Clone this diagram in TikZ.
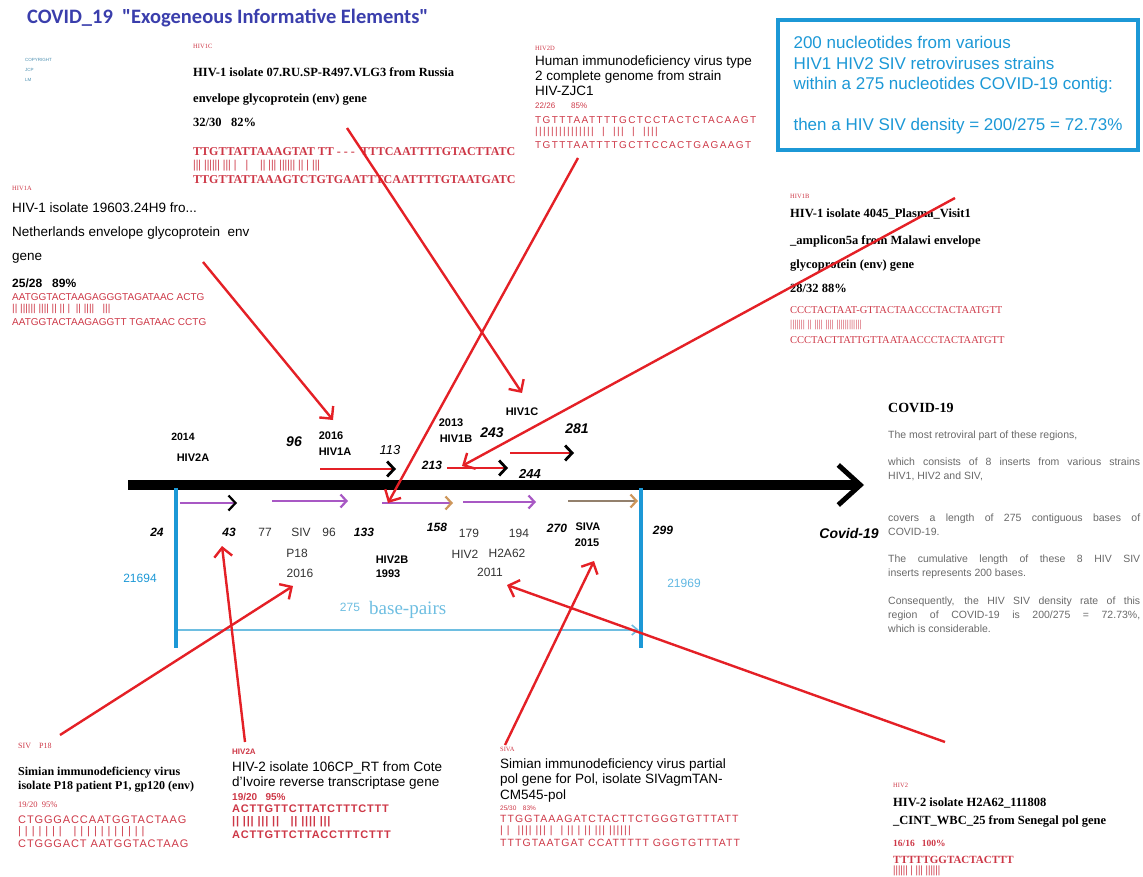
\documentclass[tikz,border=0pt]{standalone}
\usepackage{fontspec}
\setmainfont{Liberation Serif}
\setsansfont{Liberation Sans}
\newfontfamily\carl{Carlito}
\usetikzlibrary{arrows.meta}
\definecolor{seqred}{RGB}{205,55,70}
\definecolor{arrred}{RGB}{228,32,38}
\definecolor{lineblue}{RGB}{28,152,214}
\definecolor{paleblue}{RGB}{110,190,225}
\definecolor{titleblue}{RGB}{58,62,172}
\definecolor{purp}{RGB}{168,88,196}
\definecolor{ochre}{RGB}{205,150,90}
\definecolor{txtgray}{RGB}{105,105,105}
\newcommand\fs[1]{\fontsize{#1}{#1}\selectfont}
\newcommand\spread[1]{\addfontfeature{LetterSpace=#1}}
\begin{document}
\begin{tikzpicture}[x=1pt,y=-1pt,
    every node/.style={inner sep=0pt,anchor=west},
    tag/.style={text=seqred,font=\fs{6.5}},
    srf/.style={font=\bfseries\fs{12.5}},
    sns/.style={font=\sffamily\fs{13.5}},
    sqs/.style={text=seqred,font=\sffamily\fs{10}},
    sqr/.style={text=seqred,font=\fs{10.5}},
    redarr/.style={draw=arrred,line width=2.4pt,-{Straight Barb[length=9pt,width=18pt]}},
    insarr/.style={draw=arrred,line width=2.8pt,-{Straight Barb[black,length=7pt,width=15pt]}},
    purarr/.style={draw=purp,line width=2.2pt,-{Straight Barb[length=6pt,width=13pt]}},
    nb/.style={anchor=center,font=\sffamily\bfseries\itshape\fs{12}},
    nbb/.style={anchor=center,font=\sffamily\bfseries\fs{11}},
    np/.style={anchor=center,text=black!80,font=\sffamily\fs{12}},
    gtx/.style={text=txtgray,font=\sffamily\fontsize{10.5}{14}\selectfont,text width=252pt,align=justify,anchor=north west}
]
\useasboundingbox (0,0) rectangle (1143,877);

\node[text=titleblue,font=\carl\bfseries\fs{20.5}] (title) at (27,18) {COVID\_19\ \ "Exogeneous Informative Elements"};
\node[text=lineblue!55!gray,font=\sffamily\fontsize{4.5}{10}\selectfont,align=left] (copyr) at (25,70) {COPYRIGHT\\JCP\\LM};

% HIV1C
\node[tag] (c1tag) at (193,46) {HIV1C};
\node[srf] (c1a) at (193,72) {HIV-1 isolate 07.RU.SP-R497.VLG3 from Russia};
\node[srf] (c1b) at (193,100) {envelope glycoprotein (env) gene};
\node[srf] (c1c) at (193,122) {32/30\ \ \ 82\%};
\node[sqr,font=\bfseries\fs{12}] (c1s) at (193,152) {TTGTTATTAAAGTAT TT - - -\ \ TTTCAATTTTGTACTTATC};
\node[sqr,font=\bfseries\fs{12}] (c1m) at (193,166) {||| |||||| ||| |\ \ \ |\ \ \ \ || ||| |||||| || | |||};
\node[sqr,font=\bfseries\fs{12}] (c1t) at (193,180) {TTGTTATTAAAGTCTGTGAATTTCAATTTTGTAATGATC};

% HIV2D
\node[tag] (d2tag) at (535,48) {HIV2D};
\node[sns] (d2a) at (535,62) {Human immunodeficiency virus type};
\node[sns] (d2b) at (535,77) {2 complete genome from strain};
\node[sns] (d2c) at (535,91) {HIV-ZJC1};
\node[sqs,font=\sffamily\fs{8}] (d2d) at (535,106) {22/26\qquad 85\%};
\node[sqs,font=\sffamily\fs{10}\spread{14}] (d2s) at (535,120) {TGTTTAATTTTGCTCCTACTCTACAAGT};
\node[sqs,font=\sffamily\fs{10}\spread{14}] (d2m) at (535,132) {|||||||||||||||\ \ |\ \ |||\ \ |\ \ ||||};
\node[sqs,font=\sffamily\fs{10}\spread{14}] (d2t) at (535,145) {TGTTTAATTTTGCTTCCACTGAGAAGT};

\node[draw=lineblue,line width=4pt,anchor=north west,minimum width=360pt,minimum height=130pt,
  inner xsep=12pt,align=left,text=lineblue,font=\sffamily\fontsize{17}{20.5}\selectfont] (box) at (776,18)
  {200 nucleotides from various\\HIV1 HIV2 SIV retroviruses strains\\within a 275 nucleotides COVID-19 contig:\\[20pt]then a HIV SIV density = 200/275 = 72.73\%};

% HIV1A
\node[tag] (a1tag) at (12,188) {HIV1A};
\node[sns] (a1a) at (12,208) {HIV-1 isolate 19603.24H9 fro...};
\node[sns] (a1b) at (12,233) {Netherlands envelope glycoprotein\ \ env};
\node[sns] (a1c) at (12,258) {gene};
\node[sns,font=\sffamily\bfseries\fs{12}] (a1d) at (12,283) {25/28\ \ \ 89\%};
\node[sqs] (a1s) at (12,297) {AATGGTACTAAGAGGGTAGATAAC ACTG};
\node[sqs] (a1m) at (12,309) {|| |||||| |||| || || |\ \ || ||||\ \ \ |||};
\node[sqs] (a1t) at (12,322) {AATGGTACTAAGAGGTT TGATAAC CCTG};

% HIV1B
\node[tag] (b1tag) at (790,196) {HIV1B};
\node[srf] (b1a) at (790,214) {HIV-1 isolate 4045\_Plasma\_Visit1};
\node[srf] (b1b) at (790,241) {\_amplicon5a from Malawi envelope};
\node[srf] (b1c) at (790,266) {glycoprotein (env) gene};
\node[srf] (b1d) at (790,288) {28/32 88\%};
\node[sqr] (b1s) at (790,310) {CCCTACTAAT-GTTACTAACCCTACTAATGTT};
\node[sqr] (b1m) at (790,325) {||||||| || |||| |||| ||||||||||||};
\node[sqr] (b1t) at (790,340) {CCCTACTTATTGTTAATAACCCTACTAATGTT};

% axis
\coordinate (ax0) at (128,485);
\coordinate (ax1) at (864,485);
\draw[line width=10pt,-{Straight Barb[length=22pt,width=40pt,line width=5pt]}] (ax0) -- (ax1);
\draw[lineblue,line width=4pt] (176,488) -- (176,648);
\draw[lineblue,line width=4pt] (641,488) -- (641,648);
\draw[paleblue,line width=1.6pt,-{Straight Barb[length=6pt,width=10pt]}] (178,630) -- (639,630);

\draw[purarr,-{Straight Barb[black,length=7pt,width=15pt]}] (180,503) -- (237,503);
\draw[purarr] (272,501) -- (348,501);
\draw[purarr,-{Straight Barb[ochre,length=6pt,width=13pt]}] (382,503) -- (453,503);
\draw[purarr] (463,502) -- (536,502);
\draw[purarr,draw=gray!70!brown,-{Straight Barb[ochre,length=6pt,width=13pt]}] (568,501) -- (638,501);

\draw[insarr] (320,469) -- (396,469);
\draw[insarr] (447,468) -- (508,468);
\draw[insarr] (510,453) -- (574,453);

\node[nbb,font=\sffamily\bfseries\fs{10.5}] (y2a) at (183,437) {2014};
\node[nbb] (n2a) at (193,458) {HIV2A};
\node[nb,font=\sffamily\bfseries\itshape\fs{14}] (n96) at (294,442) {96};
\node[nbb] (y1a) at (331,436) {2016};
\node[nbb] (n1a) at (335,452) {HIV1A};
\node[nb,font=\sffamily\itshape\fs{13}] (n113) at (390,450) {113};
\node[nbb] (y1b) at (451,423) {2013};
\node[nbb] (n1b) at (456,439) {HIV1B};
\node[nb,font=\sffamily\bfseries\itshape\fs{14}] (n243) at (492,433) {243};
\node[nb] (n213) at (432,465) {213};
\node[nb,font=\sffamily\bfseries\itshape\fs{14}] (n281) at (577,429) {281};
\node[nb,font=\sffamily\bfseries\itshape\fs{13}] (n244) at (530,474) {244};
\node[nbb] (n1c) at (522,412) {HIV1C};

\node[nb] (n24) at (157,532) {24};
\node[nb] (n43) at (229,532) {43};
\node[np] (n77) at (265,532) {77};
\node[np] (nsiv) at (301,532) {SIV};
\node[np] (n96b) at (329,532) {96};
\node[nb] (n133) at (364,532) {133};
\node[nb] (n158) at (437,527) {158};
\node[np] (n179) at (469,533) {179};
\node[np] (n194) at (519,533) {194};
\node[nb] (n270) at (557,528) {270};
\node[nbb] (nsiva) at (588,527) {SIVA};
\node[nbb] (y2015) at (587,543) {2015};
\node[nb] (n299) at (663,530) {299};
\node[nb,font=\sffamily\bfseries\itshape\fs{14}] (ncov) at (849,533) {Covid-19};
\node[np] (np18) at (297,553) {P18};
\node[np] (y2016) at (300,573) {2016};
\node[nbb] (n2b) at (392,560) {HIV2B};
\node[nbb] (y1993) at (388,574) {1993};
\node[np] (nhiv2) at (465,554) {HIV2};
\node[np] (nh2a) at (507,553) {H2A62};
\node[np] (y2011) at (490,572) {2011};
\node[np,text=lineblue] (c0) at (140,578) {21694};
\node[np,text=lineblue!70] (c1) at (684,583) {21969};
\node[np,text=paleblue] (bp1) at (350,607) {275};
\node[text=paleblue,font=\fs{19}] (bp2) at (369,610) {base-pairs};

% COVID-19 text
\node[font=\bfseries\fs{14}] (cvhead) at (888,408) {COVID-19};
\node[gtx] (cv1) at (888,431) {The most retroviral part of these regions,};
\node[gtx] (cv2) at (888,458) {which consists of 8 inserts from various strains\linebreak HIV1, HIV2 and SIV,};
\node[gtx] (cv3) at (888,514) {covers a length of 275 contiguous bases of\linebreak COVID-19.};
\node[gtx] (cv4) at (888,555) {The cumulative length of these 8 HIV SIV\linebreak inserts represents 200 bases.};
\node[gtx] (cv5) at (888,597) {Consequently, the HIV SIV density rate of this\linebreak region of COVID-19 is 200/275 = 72.73\%,\linebreak which is considerable.};

% bottom blocks
\node[tag,font=\fs{8}] (s1tag) at (18,746) {SIV\ \ \ \ P18};
\node[srf,font=\bfseries\fs{12}] (s1a) at (18,773) {Simian immunodeficiency virus};
\node[srf,font=\bfseries\fs{12}] (s1b) at (18,787) {isolate P18 patient P1, gp120 (env)};
\node[tag,font=\fs{8.5}] (s1c) at (18,805) {19/20\ \ 95\%};
\node[sqs,font=\sffamily\fs{11}\spread{8}] (s1s) at (18,820) {CTGGGACCAATGGTACTAAG};
\node[sqs,font=\sffamily\fs{11}\spread{8}] (s1m) at (18,832) {|\ | | | |\ |\ |\ \ \ | | | | | | | | | | |};
\node[sqs,font=\sffamily\fs{11}\spread{8}] (s1t) at (18,844) {CTGGGACT AATGGTACTAAG};

\node[tag,font=\sffamily\bfseries\fs{8}] (h2atag) at (232,752) {HIV2A};
\node[sns] (h2aa) at (232,768) {HIV-2 isolate 106CP\_RT from Cote};
\node[sns] (h2ab) at (232,783) {d'Ivoire reverse transcriptase gene};
\node[sqs,font=\sffamily\bfseries\fs{10}] (h2ac) at (232,797) {19/20\ \ \ 95\%};
\node[sqs,font=\sffamily\bfseries\fs{11}\spread{7}] (h2as) at (232,809) {ACTTGTTCTTATCTTTCTTT};
\node[sqs,font=\sffamily\bfseries\fs{11}\spread{7}] (h2am) at (232,822) {|| ||| ||| ||\ \ \ || |||| |||};
\node[sqs,font=\sffamily\bfseries\fs{11}\spread{7}] (h2at) at (232,835) {ACTTGTTCTTACCTTTCTTT};

\node[tag] (svtag) at (500,749) {SIVA};
\node[sns] (sva) at (500,765) {Simian immunodeficiency virus partial};
\node[sns] (svb) at (500,780) {pol gene for Pol, isolate SIVagmTAN-};
\node[sns] (svc) at (500,796) {CM545-pol};
\node[sqs,font=\sffamily\fs{6.5}] (svd) at (500,808) {25/30\quad 83\%};
\node[sqs,font=\sffamily\fs{10.5}\spread{10}] (svs) at (500,819) {TTGGTAAAGATCTACTTCTGGGTGTTTATT};
\node[sqs,font=\sffamily\fs{10.5}\spread{10}] (svm) at (500,831) {| |\ \ |||| ||| |\ \ | || | || ||| ||||||};
\node[sqs,font=\sffamily\fs{10.5}\spread{10}] (svt) at (500,843) {TTTGTAATGAT CCATTTTT GGGTGTTTATT};

\node[tag] (h2tag) at (893,785) {HIV2};
\node[srf] (h2a) at (893,803) {HIV-2 isolate H2A62\_111808};
\node[srf] (h2b) at (893,821) {\_CINT\_WBC\_25 from Senegal pol gene};
\node[tag,font=\bfseries\fs{9.5}] (h2c) at (893,843) {16/16\ \ \ 100\%};
\node[sqr,font=\bfseries\fs{11}] (h2s) at (893,860) {TTTTTGGTACTACTTT};
\node[sqr,font=\bfseries\fs{11}] (h2m) at (893,871) {|||||| | ||| ||||||};

% pointers
\coordinate (p1a) at (203,262); \coordinate (q1a) at (333,420);
\coordinate (p1c) at (347,128); \coordinate (q1c) at (522,393);
\coordinate (p2d) at (578,158); \coordinate (q2d) at (388,503);
\coordinate (p1b) at (955,198); \coordinate (q1b) at (462,466);
\coordinate (ps1) at (60,735);  \coordinate (qs1) at (293,586);
\coordinate (p2a) at (245,742); \coordinate (q2a) at (222,546);
\coordinate (psv) at (505,745); \coordinate (qsv) at (594,561);
\coordinate (p2) at (945,742);  \coordinate (q2) at (507,585);
\foreach \a/\b in {p1a/q1a,p1c/q1c,p2d/q2d,p1b/q1b,ps1/qs1,p2a/q2a,psv/qsv,p2/q2}
  \draw[redarr] (\a) -- (\b);
\end{tikzpicture}
\end{document}
